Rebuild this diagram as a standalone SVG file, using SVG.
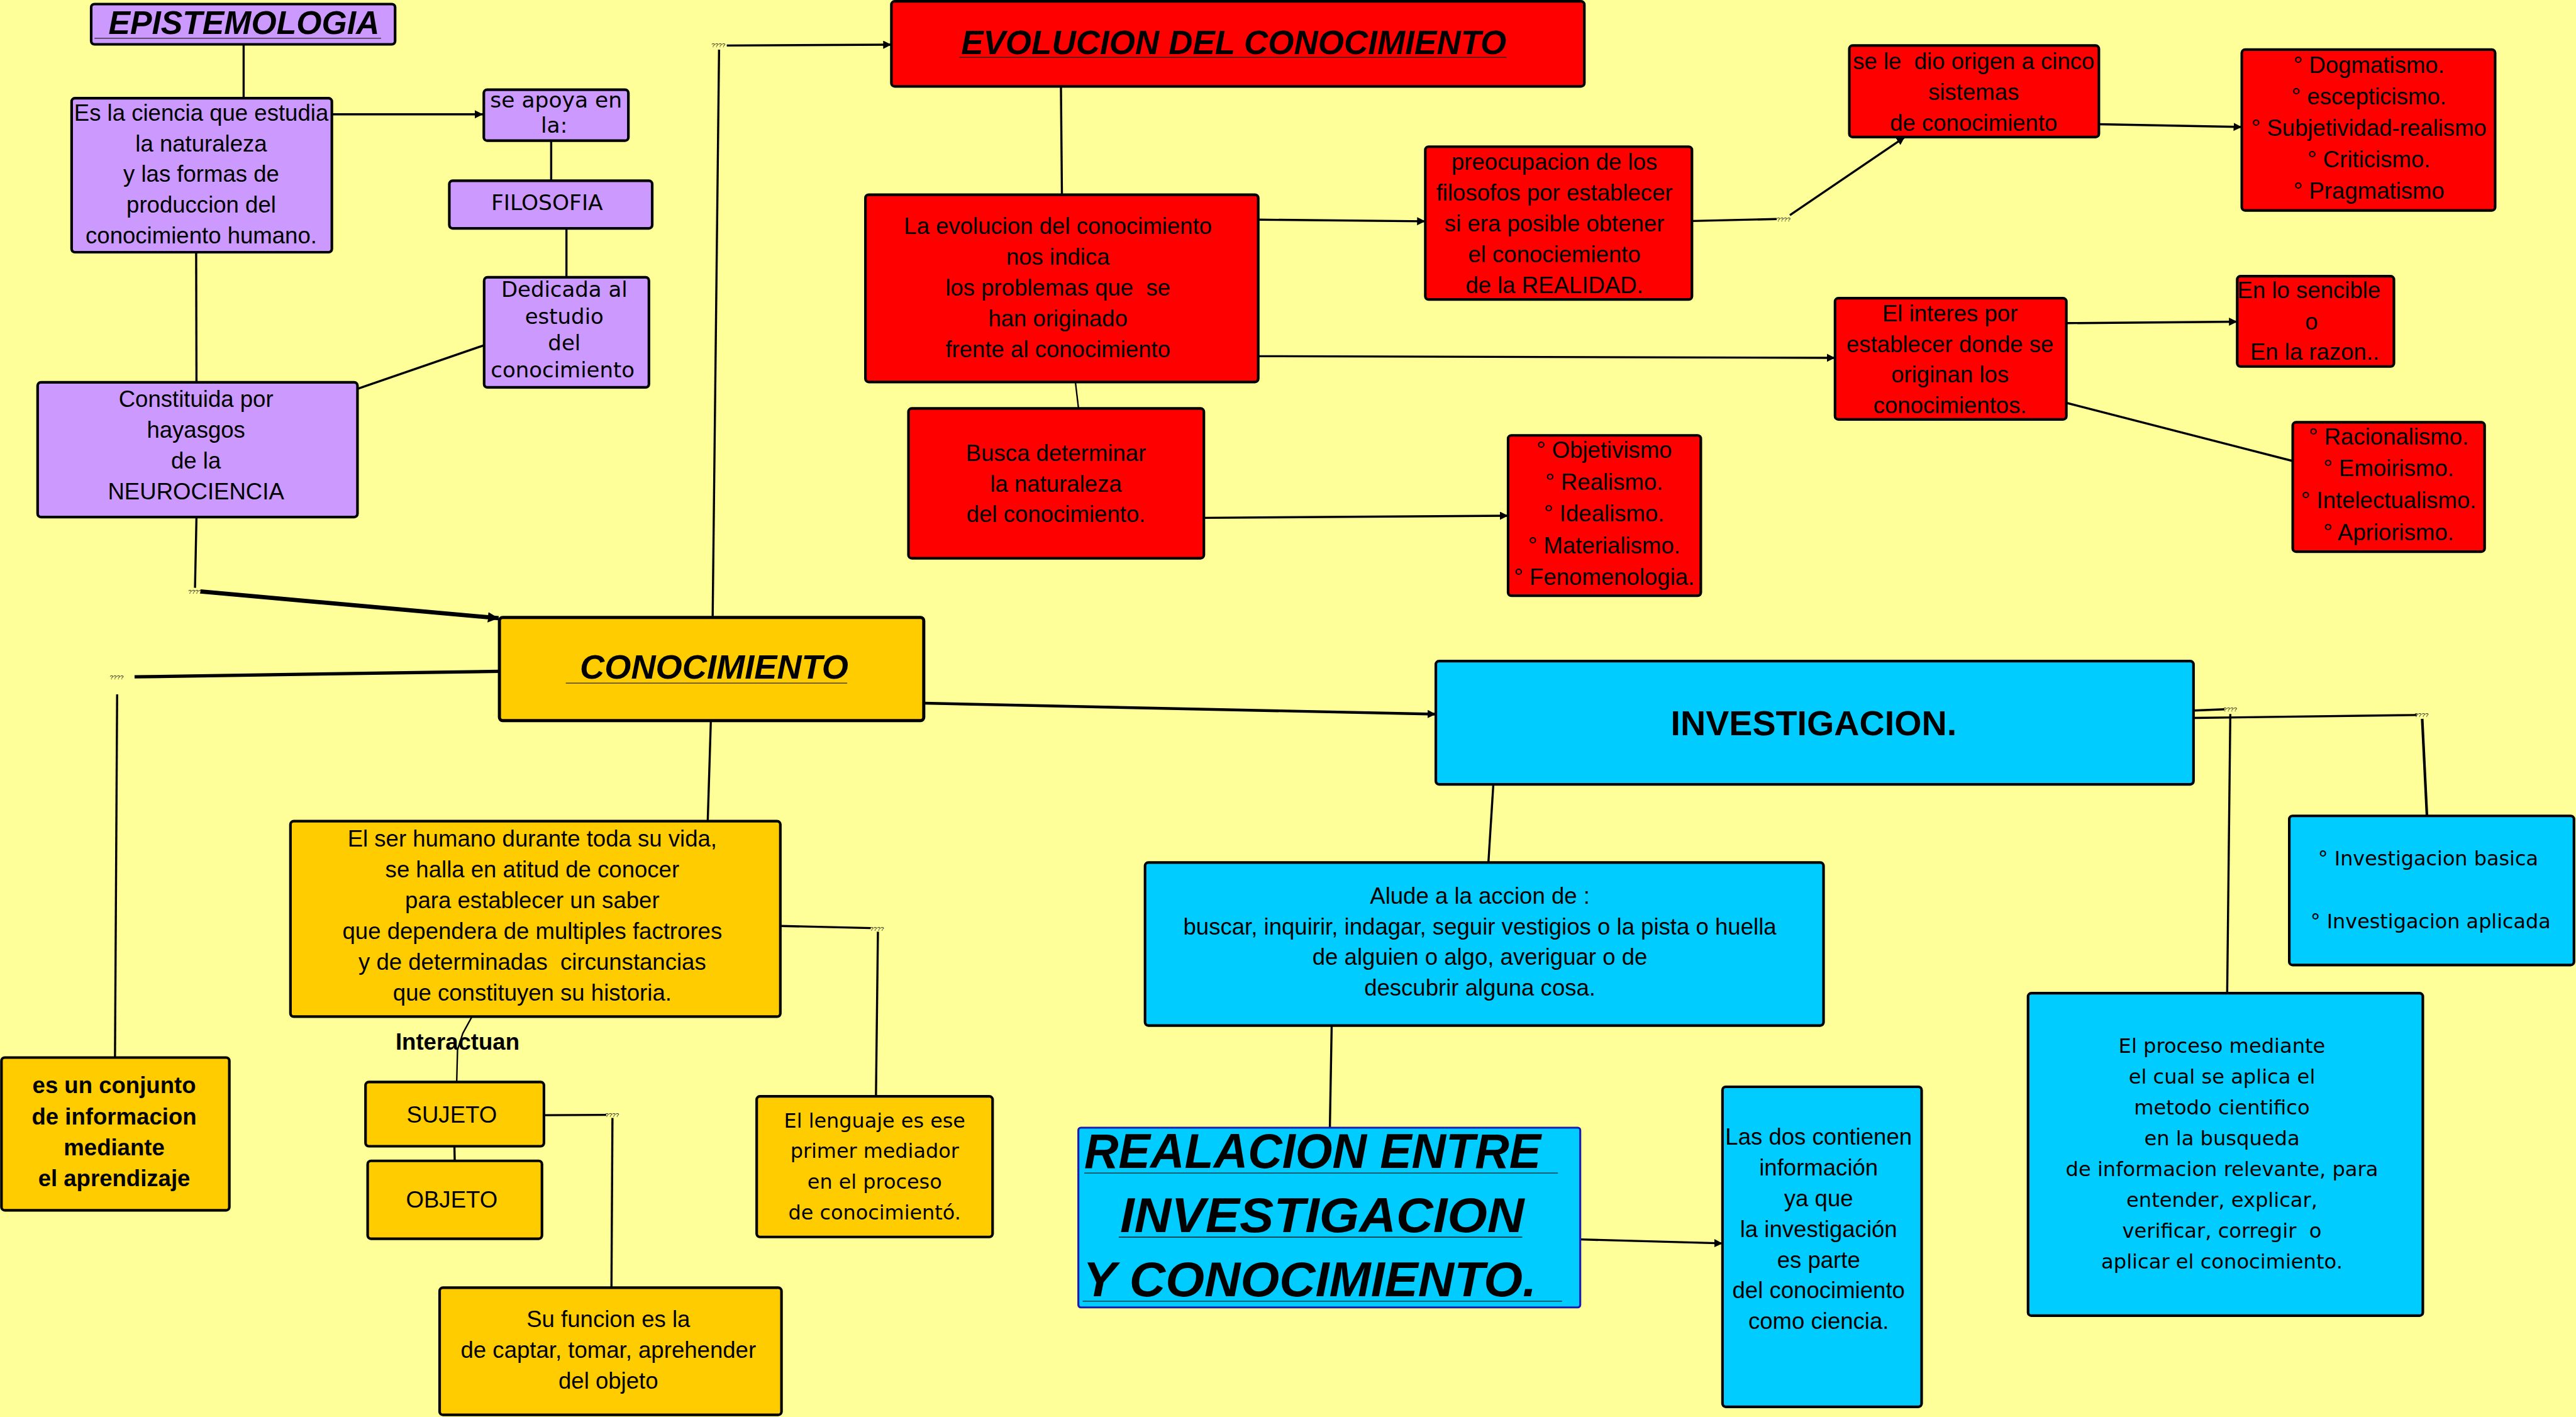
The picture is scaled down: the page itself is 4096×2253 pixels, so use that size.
<svg xmlns="http://www.w3.org/2000/svg" width="4096" height="2253" viewBox="0 0 4096 2253">
<defs>
<style>
.bx{stroke:#000;stroke-width:1.6}
.pu{fill:#CC99FF}
.re{fill:#FF0000}
.or{fill:#FFCC00}
.cy{fill:#00CCFF}
text{font-family:"Liberation Sans",Arial,sans-serif;fill:#000}
.t{font-size:14px;text-anchor:middle}
.d{font-family:"DejaVu Sans","Liberation Sans",sans-serif;text-anchor:middle}
.h{font-weight:bold;font-style:italic}
.b{font-weight:bold}
.q{font-size:3.8px;text-anchor:middle}
.ln line,.ln polyline{stroke:#000;stroke-width:1.3;fill:none}
.ul{stroke:#222;stroke-width:0.5}
</style>
<marker id="a" markerUnits="userSpaceOnUse" markerWidth="6" markerHeight="6" refX="5" refY="2.5" orient="auto"><path d="M0,0 L5,2.5 L0,5 z" fill="#000"/></marker>
<marker id="b" markerUnits="userSpaceOnUse" markerWidth="8" markerHeight="8" refX="6.5" refY="3.2" orient="auto"><path d="M0,0 L6.5,3.2 L0,6.4 z" fill="#000"/></marker>
</defs>
<rect width="4096" height="2253" fill="#FFFF99"/>
<g transform="scale(2.6122)">
<g id="connectors" class="ln">
<line x1="148.3" y1="27" x2="148.3" y2="59.8"/>
<line x1="202" y1="69.6" x2="294" y2="69.6" marker-end="url(#a)"/>
<line x1="335.5" y1="85.6" x2="335.5" y2="110"/>
<line x1="344.8" y1="139" x2="344.8" y2="168.8"/>
<line x1="294.5" y1="210.2" x2="218" y2="236.5"/>
<line x1="119.4" y1="153.5" x2="119.6" y2="232.7"/>
<line x1="119.6" y1="314.7" x2="118.7" y2="357.8"/>
<line x1="122" y1="360" x2="303.5" y2="376.3" style="stroke-width:2.6" marker-end="url(#b)"/>
<line x1="304" y1="408.6" x2="81.9" y2="412" style="stroke-width:2"/>
<line x1="71.3" y1="422.6" x2="70" y2="643.7"/>
<line x1="433.8" y1="375.8" x2="437.7" y2="30.2"/>
<line x1="442.4" y1="27.7" x2="542.6" y2="27.2" marker-end="url(#a)"/>
<line x1="432.7" y1="438.6" x2="430.8" y2="499.8"/>
<line x1="562.5" y1="428" x2="874" y2="434.7" style="stroke-width:1.7" marker-end="url(#a)"/>
<line x1="645.8" y1="52.6" x2="646.4" y2="118.5"/>
<line x1="654.6" y1="232.5" x2="656.5" y2="248.6" style="stroke-width:0.9"/>
<line x1="765.9" y1="133.7" x2="867.6" y2="134.7" marker-end="url(#a)"/>
<line x1="765.9" y1="216.8" x2="1117" y2="217.8" marker-end="url(#a)"/>
<line x1="732.8" y1="315.2" x2="918" y2="313.9" marker-end="url(#a)"/>
<line x1="1029.9" y1="134.5" x2="1081.5" y2="133.3"/>
<line x1="1089.5" y1="131" x2="1159.5" y2="83.4" marker-end="url(#a)"/>
<line x1="1277.6" y1="75.6" x2="1364.6" y2="77.3" marker-end="url(#a)"/>
<line x1="1257.8" y1="196.7" x2="1361.8" y2="195.8" marker-end="url(#a)"/>
<line x1="1257.8" y1="245.2" x2="1395.6" y2="280.6"/>
<line x1="1335.2" y1="432.5" x2="1354" y2="431.7"/>
<line x1="1357.6" y1="434.6" x2="1355.7" y2="604.5"/>
<line x1="1335.2" y1="437" x2="1471" y2="435.2"/>
<line x1="1474.4" y1="437.5" x2="1477.3" y2="496.6" style="stroke-width:1.6"/>
<line x1="909" y1="477.4" x2="906" y2="525"/>
<line x1="810.6" y1="624.2" x2="809.5" y2="686.4"/>
<line x1="961.9" y1="754.4" x2="1048.5" y2="756.8" marker-end="url(#a)"/>
<line x1="475" y1="563.6" x2="530" y2="564.9"/>
<line x1="534.4" y1="567.1" x2="533.2" y2="667.3"/>
<polyline points="287.3,618.8 281.7,629 278.5,639 278,658.6" style="stroke-width:0.9"/>
<line x1="276.6" y1="697.7" x2="276.8" y2="706.6"/>
<line x1="331.1" y1="678.8" x2="369" y2="678.6"/>
<line x1="372.8" y1="680.5" x2="372.2" y2="783.8"/>
<text class="q" x="118.8" y="361.2">????</text>
<text class="q" x="71" y="413.4">????</text>
<text class="q" x="437.3" y="28.9">????</text>
<text class="q" x="1085.7" y="134.7">????</text>
<text class="q" x="1357.5" y="433">????</text>
<text class="q" x="1474" y="436.6">????</text>
<text class="q" x="533.8" y="566.4">????</text>
<text class="q" x="372.6" y="680">????</text>
</g>

<g id="epistemologia"><rect class="bx pu" x="55.5" y="2.5" width="185" height="24.5" rx="2"/><text class="h" x="66" y="20.8" font-size="19.5px" textLength="165" lengthAdjust="spacingAndGlyphs">EPISTEMOLOGIA</text><line class="ul" x1="57.5" y1="23.3" x2="232" y2="23.3"/></g>

<g id="ciencia"><rect class="bx pu" x="43.6" y="59.8" width="158.4" height="93.7" rx="2"/><text class="t" font-size="13.6px"><tspan x="122.5" y="73.6">Es la ciencia que estudia</tspan><tspan x="122.5" y="92.2">la naturaleza</tspan><tspan x="122.5" y="110.8">y las formas de</tspan><tspan x="122.5" y="129.4">produccion del</tspan><tspan x="122.5" y="148">conocimiento humano.</tspan></text></g>

<g id="apoya"><rect class="bx pu" x="294.5" y="54.6" width="88" height="31" rx="2"/><text class="d" font-size="13.2px"><tspan x="338.5" y="65.4">se apoya en</tspan><tspan x="337.3" y="80.6">la:</tspan></text></g>

<g id="filosofia"><rect class="bx pu" x="273.5" y="110" width="123.5" height="29" rx="2"/><text class="d" font-size="13.2px" x="333" y="128">FILOSOFIA</text></g>

<g id="dedicada"><rect class="bx pu" x="294.7" y="168.8" width="100.3" height="67" rx="2"/><text class="d" font-size="13px"><tspan x="343.5" y="180.6">Dedicada al</tspan><tspan x="343.5" y="197">estudio</tspan><tspan x="343.5" y="213.3">del</tspan><tspan x="342.5" y="229.7">conocimiento</tspan></text></g>

<g id="constituida"><rect class="bx pu" x="22.9" y="232.7" width="194.7" height="82" rx="2"/><text class="t" font-size="13.6px"><tspan x="119.3" y="247.8">Constituida por</tspan><tspan x="119.3" y="266.5">hayasgos</tspan><tspan x="119.3" y="285.3">de la</tspan><tspan x="119.3" y="304">NEUROCIENCIA</tspan></text></g>

<g id="evolucion"><rect class="bx re" x="542.6" y="0.8" width="421.8" height="51.8" rx="2"/><text class="h" x="585" y="33.1" font-size="20.3px" textLength="332" lengthAdjust="spacingAndGlyphs">EVOLUCION DEL CONOCIMIENTO</text><line class="ul" x1="584" y1="34.9" x2="917" y2="34.9"/></g>

<g id="evolucion-indica"><rect class="bx re" x="526.8" y="118.5" width="239.1" height="114" rx="2"/><text class="t" font-size="13.5px"><tspan x="644" y="142.6">La evolucion del conocimiento</tspan><tspan x="644" y="161.3">nos indica</tspan><tspan x="644" y="180">los problemas que&#160; se</tspan><tspan x="644" y="198.7">han originado</tspan><tspan x="644" y="217.4">frente al conocimiento</tspan></text></g>

<g id="busca"><rect class="bx re" x="553" y="248.6" width="179.8" height="91.2" rx="2"/><text class="t" font-size="13.8px"><tspan x="642.8" y="280.5">Busca determinar</tspan><tspan x="642.8" y="299.2">la naturaleza</tspan><tspan x="642.8" y="317.9">del conocimiento.</tspan></text></g>

<g id="preocupacion"><rect class="bx re" x="867.6" y="89.3" width="162.3" height="93" rx="2"/><text class="t" font-size="14px"><tspan x="946.2" y="103.3">preocupacion de los</tspan><tspan x="946.2" y="122.1">filosofos por establecer</tspan><tspan x="946.2" y="140.9">si era posible obtener</tspan><tspan x="946.2" y="159.7">el conociemiento</tspan><tspan x="946.2" y="178.5">de la REALIDAD.</tspan></text></g>

<g id="cinco-sistemas"><rect class="bx re" x="1125.7" y="27.7" width="151.9" height="55.7" rx="2"/><text class="t" font-size="13.8px"><tspan x="1201.4" y="42">se le&#160; dio origen a cinco</tspan><tspan x="1201.4" y="60.8">sistemas</tspan><tspan x="1201.4" y="79.6">de conocimiento</tspan></text></g>

<g id="dogmatismo"><rect class="bx re" x="1364.6" y="30.2" width="154.2" height="97.9" rx="2"/><text class="t" font-size="14px"><tspan x="1442" y="44.3">° Dogmatismo.</tspan><tspan x="1442" y="63.5">° escepticismo.</tspan><tspan x="1442" y="82.7">° Subjetividad-realismo</tspan><tspan x="1442" y="101.9">° Criticismo.</tspan><tspan x="1442" y="121.1">° Pragmatismo</tspan></text></g>

<g id="interes"><rect class="bx re" x="1117" y="181.5" width="140.8" height="73.8" rx="2"/><text class="t" font-size="14px"><tspan x="1187" y="195.6">El interes por</tspan><tspan x="1187" y="214.2">establecer donde se</tspan><tspan x="1187" y="232.8">originan los</tspan><tspan x="1187" y="251.4">conocimientos.</tspan></text></g>

<g id="sencible"><rect class="bx re" x="1361.8" y="168.1" width="95.4" height="55" rx="2"/><text class="t" font-size="13.5px"><tspan x="1405.5" y="181.5">En lo sencible</tspan><tspan x="1407" y="200.5">o</tspan><tspan x="1409" y="219.1">En la razon..</tspan></text></g>

<g id="racionalismo"><rect class="bx re" x="1395.6" y="257" width="116.8" height="78.8" rx="2"/><text class="t" font-size="14px"><tspan x="1454" y="270.5">° Racionalismo.</tspan><tspan x="1454" y="289.9">° Emoirismo.</tspan><tspan x="1454" y="309.3">° Intelectualismo.</tspan><tspan x="1454" y="328.7">° Apriorismo.</tspan></text></g>

<g id="objetivismo"><rect class="bx re" x="918" y="265" width="117.3" height="97.6" rx="2"/><text class="t" font-size="13.2px"><tspan x="976.5" y="278.8">° Objetivismo</tspan><tspan x="976.5" y="298.1">° Realismo.</tspan><tspan x="976.5" y="317.4">° Idealismo.</tspan><tspan x="976.5" y="336.7">° Materialismo.</tspan><tspan x="976.5" y="356">° Fenomenologia.</tspan></text></g>

<g id="conocimiento"><rect class="bx or" x="304" y="375.8" width="258.3" height="62.8" rx="2" style="stroke-width:1.9"/><text class="h" x="353" y="413.2" font-size="20.5px" textLength="163.4" lengthAdjust="spacingAndGlyphs">CONOCIMIENTO</text><line class="ul" x1="344.4" y1="415.8" x2="515.7" y2="415.8"/></g>

<g id="ser-humano"><rect class="bx or" x="176.8" y="499.8" width="298.2" height="119" rx="2"/><text class="t" font-size="14px"><tspan x="324" y="515.2">El ser humano durante toda su vida,</tspan><tspan x="324" y="534">se halla en atitud de conocer</tspan><tspan x="324" y="552.8">para establecer un saber</tspan><tspan x="324" y="571.6">que dependera de multiples factrores</tspan><tspan x="324" y="590.4">y de determinadas&#160; circunstancias</tspan><tspan x="324" y="609.2">que constituyen su historia.</tspan></text></g>

<g id="interactuan"><text class="t b" x="278.5" y="638.9" font-size="14px">Interactuan</text></g>

<g id="sujeto"><rect class="bx or" x="222.5" y="658.6" width="108.6" height="39.1" rx="2"/><text class="t" x="275" y="683.3" font-size="14px">SUJETO</text></g>

<g id="objeto"><rect class="bx or" x="223.8" y="706.6" width="106.1" height="47.4" rx="2"/><text class="t" x="275" y="735" font-size="14px">OBJETO</text></g>

<g id="funcion"><rect class="bx or" x="267.6" y="783.8" width="208.1" height="77.4" rx="2"/><text class="t" font-size="14px"><tspan x="370.3" y="807.8">Su funcion es la</tspan><tspan x="370.3" y="826.5">de captar, tomar, aprehender</tspan><tspan x="370.3" y="845.2">del objeto</tspan></text></g>

<g id="conjunto"><rect class="bx or" x="0.9" y="643.7" width="138.7" height="93" rx="2"/><text class="t b" font-size="13.3px"><tspan x="69.5" y="665.5">es un conjunto</tspan><tspan x="69.5" y="684.3">de informacion</tspan><tspan x="69.5" y="703.1">mediante</tspan><tspan x="69.5" y="721.9">el aprendizaje</tspan></text></g>

<g id="lenguaje"><rect class="bx or" x="460.6" y="667.3" width="143.6" height="85.6" rx="2"/><text class="d" font-size="12.2px"><tspan x="532.4" y="686.3">El lenguaje es ese</tspan><tspan x="532.4" y="704.9">primer mediador</tspan><tspan x="532.4" y="723.5">en el proceso</tspan><tspan x="532.4" y="742.1">de conocimientó.</tspan></text></g>

<g id="investigacion"><rect class="bx cy" x="874" y="402.4" width="461.2" height="75" rx="2"/><text class="b" x="1017" y="447.4" font-size="21px" textLength="174" lengthAdjust="spacingAndGlyphs">INVESTIGACION.</text></g>

<g id="alude"><rect class="bx cy" x="697" y="525" width="413" height="99.2" rx="2"/><text class="t" font-size="13.9px"><tspan x="900.8" y="550">Alude a la accion de :</tspan><tspan x="900.8" y="568.7">buscar, inquirir, indagar, seguir vestigios o la pista o huella</tspan><tspan x="900.8" y="587.4">de alguien o algo, averiguar o de</tspan><tspan x="900.8" y="606.1">descubrir alguna cosa.</tspan></text></g>

<g id="relacion"><rect class="cy" x="656.4" y="686.4" width="305.5" height="109.4" rx="1.5" stroke="#1c1cb0" stroke-width="1.2"/><text class="h" font-size="30px"><tspan x="660" y="710.8" textLength="278" lengthAdjust="spacingAndGlyphs">REALACION ENTRE</tspan><tspan x="681.8" y="749.9" textLength="246" lengthAdjust="spacingAndGlyphs">INVESTIGACION</tspan><tspan x="659.3" y="788.9" textLength="276" lengthAdjust="spacingAndGlyphs">Y CONOCIMIENTO.</tspan></text><line class="ul" x1="660" y1="714" x2="948.3" y2="714"/><line class="ul" x1="681" y1="753" x2="926.6" y2="753"/><line class="ul" x1="659" y1="792" x2="950.8" y2="792"/></g>

<g id="las-dos"><rect class="bx cy" x="1048.5" y="661.5" width="121.2" height="194.8" rx="2"/><text class="t" font-size="13.6px"><tspan x="1107" y="696.8">Las dos contienen</tspan><tspan x="1107" y="715.5">información</tspan><tspan x="1107" y="734.2">ya que</tspan><tspan x="1107" y="752.9">la investigación</tspan><tspan x="1107" y="771.6">es parte</tspan><tspan x="1107" y="790.3">del conocimiento</tspan><tspan x="1107" y="809">como ciencia.</tspan></text></g>

<g id="tipos"><rect class="bx cy" x="1393.5" y="496.6" width="173.3" height="90.8" rx="2"/><text class="d" font-size="12.2px"><tspan x="1478" y="526.6">° Investigacion basica</tspan><tspan x="1479.5" y="565">° Investigacion aplicada</tspan></text></g>

<g id="proceso"><rect class="bx cy" x="1234.5" y="604.5" width="240.3" height="196.3" rx="2"/><text class="d" font-size="12.3px"><tspan x="1352.5" y="640.8">El proceso mediante</tspan><tspan x="1352.5" y="659.6">el cual se aplica el</tspan><tspan x="1352.5" y="678.3">metodo cientifico</tspan><tspan x="1352.5" y="697.1">en la busqueda</tspan><tspan x="1352.5" y="715.8">de informacion relevante, para</tspan><tspan x="1352.5" y="734.6">entender, explicar,</tspan><tspan x="1352.5" y="753.4">verificar, corregir&#160; o</tspan><tspan x="1352.5" y="772.1">aplicar el conocimiento.</tspan></text></g>
</g>
</svg>
